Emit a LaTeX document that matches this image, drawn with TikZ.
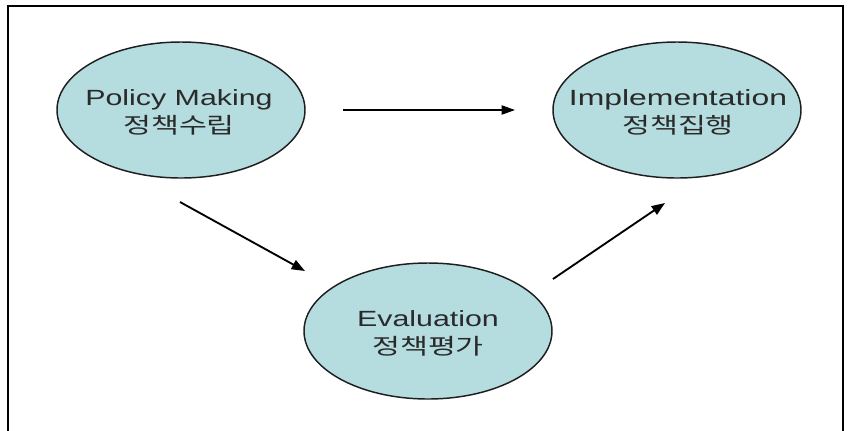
\documentclass[tikz,border=0pt]{standalone}
\usepackage{fontspec}
\setmainfont{Liberation Sans}
\newfontfamily\kr{Noto Sans CJK KR}
\usetikzlibrary{arrows.meta,shapes.geometric}
\definecolor{bubblefill}{HTML}{B5DCDF}
\definecolor{bubbleline}{HTML}{1E1E1E}
\definecolor{labeltext}{HTML}{2A2A2A}
\newcommand\wtxt[1]{\scalebox{1.38}[1]{#1}}
\tikzset{
  bubble/.style={ellipse, draw=bubbleline, line width=1.1pt, fill=bubblefill,
    minimum width=186pt, minimum height=102pt, inner sep=0pt},
  label/.style={align=center, font=\fontsize{16.5}{21}\selectfont, inner sep=0pt, text=labeltext},
  arr/.style={-{Triangle[length=10pt,width=7.5pt]}, line width=1.4pt, black},
  thinarr/.style={-{Triangle[length=10pt,width=7pt]}, line width=0.8pt, black},
  frame/.style={line width=1.5pt, black}
}
\begin{document}
\begin{tikzpicture}[x=0.75pt,y=-0.75pt]
\useasboundingbox (0,0) rectangle (854,430);
\coordinate (fbl) at (7.5,432);
\coordinate (ftl) at (7.5,6);
\coordinate (ftr) at (843,6);
\coordinate (fbr) at (843,432);
\draw[frame] (fbl) -- (ftl) -- (ftr) -- (fbr);

\node[bubble] (pm) at (181,110) {};
\node[bubble] (im) at (677,110) {};
\node[bubble] (ev) at (428,331) {};

\node[label] (pmt) at (179,112) {\wtxt{Policy Making}\\\wtxt{\kr 정책수립}};
\node[label] (imt) at (678,112) {\scalebox{1.45}[1]{Implementation}\\\wtxt{\kr 정책집행}};
\node[label] (evt) at (428,333) {\wtxt{Evaluation}\\\wtxt{\kr 정책평가}};

\draw[thinarr, shorten <=28pt, shorten >=28pt] (pm.east) -- (im.west);

\coordinate (d1s) at (180,202);
\coordinate (d1e) at (305,271);
\coordinate (d2s) at (553,279);
\coordinate (d2e) at (665,203);
\draw[arr] (d1s) -- (d1e);
\draw[arr] (d2s) -- (d2e);
\end{tikzpicture}
\end{document}
